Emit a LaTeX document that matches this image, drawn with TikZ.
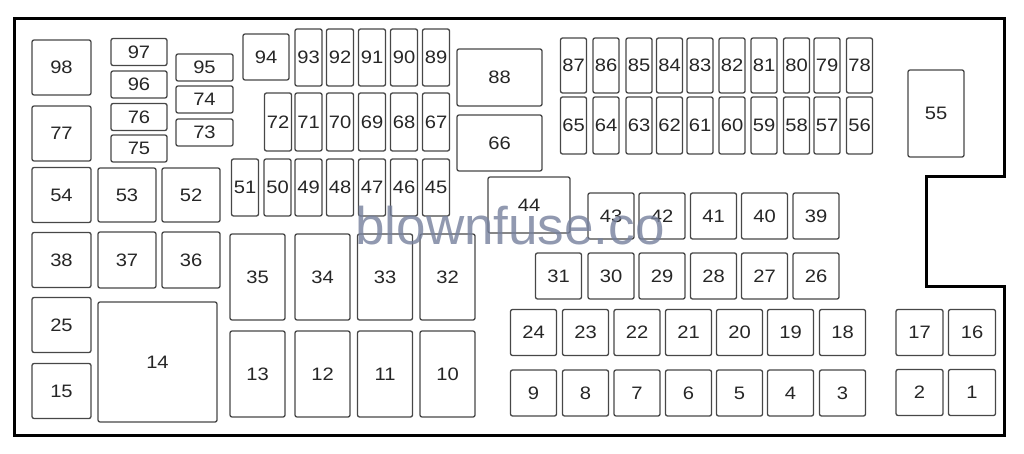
\documentclass[tikz,border=0pt]{standalone}
\usepackage{fontspec}
\setmainfont{Liberation Sans}[FakeStretch=1.12]
\newfontfamily\markfont{Liberation Sans}
\usepackage{tikz}
\definecolor{markgray}{RGB}{118,128,156}

\begin{document}
\begin{tikzpicture}[x=1pt,y=-1pt,
  fuse/.style={draw=black!72,line width=1.3pt,rounded corners=2pt,inner sep=0pt,text=black!85,font=\fontsize{18}{18}\selectfont},
  sq/.style={fuse,minimum width=46,minimum height=46},
  tall/.style={fuse,minimum width=27,minimum height=57},
  big/.style={fuse,minimum width=55,minimum height=86}]
\useasboundingbox (0,0) rectangle (1024,454);
\draw[line width=3pt] (14,19) -- (1004,19) -- (1004,177) -- (926,177) -- (926,286) -- (1004,286) -- (1004,435) -- (14,435) -- cycle;
\node[fuse,minimum width=59,minimum height=55] (f98) at (61.5,67.5) {98};
\node[fuse,minimum width=59,minimum height=55] (f77) at (61.5,133.5) {77};
\node[fuse,minimum width=59,minimum height=55] (f54) at (61.5,195) {54};
\node[fuse,minimum width=59,minimum height=55] (f38) at (61.5,260) {38};
\node[fuse,minimum width=59,minimum height=55] (f25) at (61.5,325) {25};
\node[fuse,minimum width=59,minimum height=55] (f15) at (61.5,391) {15};
\node[fuse,minimum width=56,minimum height=27] (f97) at (139,52) {97};
\node[fuse,minimum width=56,minimum height=27] (f96) at (139,84.5) {96};
\node[fuse,minimum width=56,minimum height=27] (f76) at (139,117) {76};
\node[fuse,minimum width=56,minimum height=27] (f75) at (139,148.5) {75};
\node[fuse,minimum width=57,minimum height=27] (f95) at (204.5,67.5) {95};
\node[fuse,minimum width=57,minimum height=27] (f74) at (204.5,99.5) {74};
\node[fuse,minimum width=57,minimum height=27] (f73) at (204.5,132.5) {73};
\node[fuse,minimum width=58,minimum height=54] (f53) at (127,195) {53};
\node[fuse,minimum width=58,minimum height=54] (f52) at (191,195) {52};
\node[fuse,minimum width=58,minimum height=56] (f37) at (127,260) {37};
\node[fuse,minimum width=58,minimum height=56] (f36) at (191,260) {36};
\node[fuse,minimum width=119,minimum height=120] (f14) at (157.5,362) {14};
\node[sq] (f94) at (266,57) {94};
\node[tall] (f93) at (308.5,57.5) {93};
\node[tall] (f92) at (340,57.5) {92};
\node[tall] (f91) at (372,57.5) {91};
\node[tall] (f90) at (404,57.5) {90};
\node[tall] (f89) at (436,57.5) {89};
\node[tall,minimum height=58] (f72) at (278,122) {72};
\node[tall,minimum height=58] (f71) at (308.5,122) {71};
\node[tall,minimum height=58] (f70) at (340,122) {70};
\node[tall,minimum height=58] (f69) at (372,122) {69};
\node[tall,minimum height=58] (f68) at (404,122) {68};
\node[tall,minimum height=58] (f67) at (436,122) {67};
\node[tall] (f51) at (245,187.5) {51};
\node[tall] (f50) at (277.5,187.5) {50};
\node[tall] (f49) at (308.5,187.5) {49};
\node[tall] (f48) at (340,187.5) {48};
\node[tall] (f47) at (372,187.5) {47};
\node[tall] (f46) at (404,187.5) {46};
\node[tall] (f45) at (436,187.5) {45};
\node[fuse,minimum width=85,minimum height=57] (f88) at (499.5,77.5) {88};
\node[fuse,minimum width=85,minimum height=56] (f66) at (499.5,143) {66};
\node[fuse,minimum width=82,minimum height=56] (f44) at (529,205) {44};
\node[tall,minimum width=26,minimum height=55] (f87) at (573.5,65.5) {87};
\node[tall,minimum width=26,minimum height=55] (f86) at (606,65.5) {86};
\node[tall,minimum width=26,minimum height=55] (f85) at (639,65.5) {85};
\node[tall,minimum width=26,minimum height=55] (f84) at (669.5,65.5) {84};
\node[tall,minimum width=26,minimum height=55] (f83) at (700,65.5) {83};
\node[tall,minimum width=26,minimum height=55] (f82) at (732,65.5) {82};
\node[tall,minimum width=26,minimum height=55] (f81) at (764,65.5) {81};
\node[tall,minimum width=26,minimum height=55] (f80) at (796.5,65.5) {80};
\node[tall,minimum width=26,minimum height=55] (f79) at (827,65.5) {79};
\node[tall,minimum width=26,minimum height=55] (f78) at (859.5,65.5) {78};
\node[tall,minimum width=26] (f65) at (573.5,125.5) {65};
\node[tall,minimum width=26] (f64) at (606,125.5) {64};
\node[tall,minimum width=26] (f63) at (639,125.5) {63};
\node[tall,minimum width=26] (f62) at (669.5,125.5) {62};
\node[tall,minimum width=26] (f61) at (700,125.5) {61};
\node[tall,minimum width=26] (f60) at (732,125.5) {60};
\node[tall,minimum width=26] (f59) at (764,125.5) {59};
\node[tall,minimum width=26] (f58) at (796.5,125.5) {58};
\node[tall,minimum width=26] (f57) at (827,125.5) {57};
\node[tall,minimum width=26] (f56) at (859.5,125.5) {56};
\node[fuse,minimum width=56,minimum height=87] (f55) at (936,113.5) {55};
\node[sq] (f43) at (611,216) {43};
\node[sq] (f42) at (662,216) {42};
\node[sq] (f41) at (713.5,216) {41};
\node[sq] (f40) at (764.5,216) {40};
\node[sq] (f39) at (816,216) {39};
\node[sq] (f31) at (558.5,276) {31};
\node[sq] (f30) at (611,276) {30};
\node[sq] (f29) at (662,276) {29};
\node[sq] (f28) at (713.5,276) {28};
\node[sq] (f27) at (764.5,276) {27};
\node[sq] (f26) at (816,276) {26};
\node[big] (f35) at (257.5,277) {35};
\node[big] (f34) at (322.5,277) {34};
\node[big] (f33) at (385,277) {33};
\node[big] (f32) at (447.5,277) {32};
\node[big] (f13) at (257.5,374) {13};
\node[big] (f12) at (322.5,374) {12};
\node[big] (f11) at (385,374) {11};
\node[big] (f10) at (447.5,374) {10};
\node[sq] (f24) at (533.5,332.5) {24};
\node[sq] (f23) at (585.5,332.5) {23};
\node[sq] (f22) at (637,332.5) {22};
\node[sq] (f21) at (688.5,332.5) {21};
\node[sq] (f20) at (739.5,332.5) {20};
\node[sq] (f19) at (790.5,332.5) {19};
\node[sq] (f18) at (842.5,332.5) {18};
\node[sq] (f9) at (533.5,393) {9};
\node[sq] (f8) at (585.5,393) {8};
\node[sq] (f7) at (637,393) {7};
\node[sq] (f6) at (688.5,393) {6};
\node[sq] (f5) at (739.5,393) {5};
\node[sq] (f4) at (790.5,393) {4};
\node[sq] (f3) at (842.5,393) {3};
\node[sq,minimum width=47] (f17) at (919.5,332.5) {17};
\node[sq,minimum width=47] (f16) at (972,332.5) {16};
\node[sq,minimum width=47] (f2) at (919.5,392.5) {2};
\node[sq,minimum width=47] (f1) at (972,392.5) {1};
\node[inner sep=0pt,text=markgray,opacity=0.8,font=\markfont\fontsize{53}{53}\selectfont] (mark) at (510,226) {blownfuse.co};
\end{tikzpicture}
\end{document}
